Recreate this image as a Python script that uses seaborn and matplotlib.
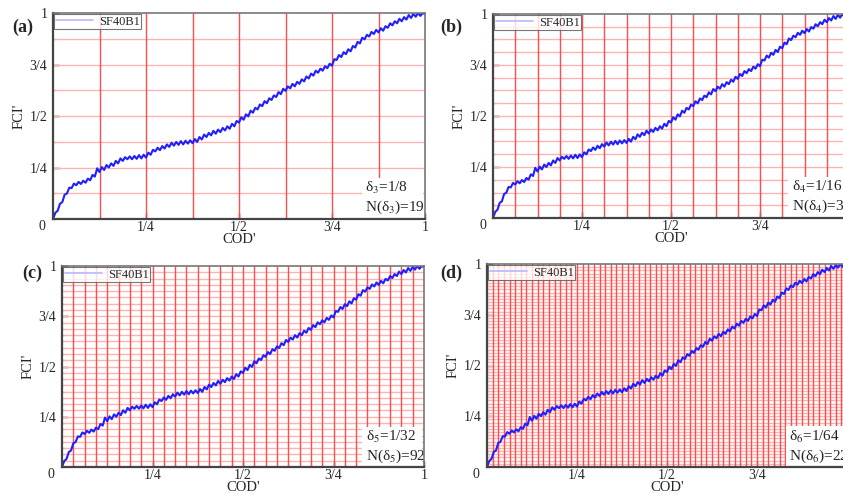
import numpy as np
import pandas as pd
import matplotlib
matplotlib.use("Agg")
import matplotlib.pyplot as plt
import seaborn as sns
from matplotlib.patches import Rectangle
from matplotlib.ticker import FixedLocator, MultipleLocator

sns.set_theme(style="white")
plt.rcParams["font.family"] = ["Liberation Serif", "DejaVu Serif"]
plt.rcParams["mathtext.fontset"] = "stix"

# Normalised force (FCI') sampled at evenly spaced normalised COD' values
fci = [0.000, 0.030, 0.040, 0.074, 0.082, 0.118, 0.124, 0.152, 0.150, 0.172,
       0.164, 0.180, 0.170, 0.186, 0.176, 0.196, 0.188, 0.214, 0.206, 0.246,
       0.228, 0.252, 0.238, 0.262, 0.250, 0.270, 0.258, 0.282, 0.270, 0.294,
       0.282, 0.300, 0.290, 0.304, 0.290, 0.306, 0.292, 0.310, 0.294, 0.312,
       0.298, 0.322, 0.312, 0.336, 0.328, 0.346, 0.334, 0.354, 0.342, 0.362,
       0.350, 0.370, 0.356, 0.374, 0.360, 0.378, 0.362, 0.380, 0.366, 0.382,
       0.368, 0.388, 0.374, 0.398, 0.386, 0.410, 0.398, 0.418, 0.406, 0.428,
       0.414, 0.434, 0.422, 0.442, 0.430, 0.450, 0.438, 0.462, 0.450, 0.476,
       0.468, 0.494, 0.482, 0.508, 0.498, 0.526, 0.516, 0.540, 0.532, 0.556,
       0.548, 0.572, 0.562, 0.586, 0.578, 0.600, 0.592, 0.616, 0.606, 0.632,
       0.622, 0.644, 0.634, 0.656, 0.644, 0.666, 0.656, 0.678, 0.668, 0.692,
       0.682, 0.706, 0.696, 0.720, 0.710, 0.730, 0.720, 0.742, 0.732, 0.754,
       0.744, 0.776, 0.772, 0.796, 0.786, 0.810, 0.800, 0.824, 0.814, 0.840,
       0.832, 0.860, 0.852, 0.880, 0.872, 0.894, 0.886, 0.908, 0.898, 0.918,
       0.906, 0.926, 0.914, 0.936, 0.928, 0.950, 0.940, 0.960, 0.950, 0.972,
       0.960, 0.980, 0.968, 0.990, 0.976, 0.996, 0.982, 1.000, 0.986, 1.000,
       0.994]
cod = np.linspace(0.0, 1.0, len(fci))
series_name = "SF40B1"

# Box-counting levels: panel letter, subscript, box size denominator, box count
panel_letters = ["(a)", "(b)", "(c)", "(d)"]
delta_index = [3, 4, 5, 6]
delta_denom = [8, 16, 32, 64]
box_counts = [19, 37, 92, 220]

tick_vals = [0.25, 0.5, 0.75, 1.0]
tick_text = ["1/4", "1/2", "3/4", "1"]

df = pd.DataFrame({"COD'": cod, "FCI'": fci, "series": series_name})

W, H = 843, 494
fig = plt.figure(figsize=(W / 100, H / 100), dpi=100)

# axes rectangles in pixels: left, top, right, bottom
boxes_px = [(53, 13, 425, 219), (493, 14, 849, 218),
            (62, 266, 424, 467), (487, 264, 847, 467)]
# panel letter anchor (right edge, vertical centre) in pixels
letter_px = [(33, 27), (462, 27), (42, 273), (462, 273)]

for i, (l, t, r, b) in enumerate(boxes_px):
    ax = fig.add_axes([l / W, 1 - b / H, (r - l) / W, (b - t) / H])
    ax.set_xlim(0, 1)
    ax.set_ylim(0, 1)
    n = delta_denom[i]
    step = 1.0 / n
    for k in range(1, n):
        ax.axhline(k * step, color="#ffb3b3", lw=1.0, zorder=1)
    for k in range(1, n):
        ax.axvline(k * step, color="#ff4d4d", lw=1.0, zorder=1.1)

    # white patch behind the box-count annotation
    ax.add_patch(Rectangle((0.83, 0.006), 0.165, 0.195, transform=ax.transAxes,
                           facecolor="white", edgecolor="none", zorder=2))

    sns.lineplot(data=df, x="COD'", y="FCI'", hue="series",
                 palette=["#1f1fff"], lw=1.5, ax=ax, zorder=3,
                 estimator=None, sort=False)

    leg = ax.legend(loc="upper left", fontsize=9, frameon=True, fancybox=False,
                    borderpad=0.1, handlelength=3.0, handletextpad=0.5,
                    borderaxespad=0.1, labelspacing=0.1)
    leg.get_frame().set_edgecolor("#555555")
    leg.get_frame().set_linewidth(0.8)
    for h in leg.get_lines():
        h.set_color("#b8b8ff")
        h.set_linewidth(1.2)
    leg.set_zorder(5)

    ax.xaxis.set_major_locator(FixedLocator(tick_vals))
    ax.set_xticklabels(tick_text)
    ax.yaxis.set_major_locator(FixedLocator(tick_vals))
    ax.set_yticklabels(tick_text)
    ax.xaxis.set_minor_locator(MultipleLocator(step))
    ax.yaxis.set_minor_locator(MultipleLocator(step))
    ax.tick_params(which="major", direction="in", length=4, width=1,
                   color="#222222", labelsize=10, pad=4,
                   bottom=True, left=True)
    ax.tick_params(axis="x", which="major", pad=1.5)
    ax.tick_params(which="minor", direction="in", length=2, width=0.8,
                   color="#222222", bottom=True, left=True)
    ax.set_xlabel("COD'", fontsize=10.5, labelpad=-1)
    ax.set_ylabel("FCI'", fontsize=10.5, labelpad=3)
    ax.text(-0.02, -0.005, "0", transform=ax.transAxes, ha="right", va="top",
            fontsize=10)

    for s in ["left", "bottom"]:
        ax.spines[s].set_color("#444444")
        ax.spines[s].set_linewidth(1.6)
    for s in ["top", "right"]:
        ax.spines[s].set_color("#777777")
        ax.spines[s].set_linewidth(1.2)
    for s in ax.spines.values():
        s.set_visible(True)
        s.set_zorder(6)

    d = delta_index[i]
    ax.text(0.84, 0.15, f"δ$_{d}$=1/{delta_denom[i]}",
            transform=ax.transAxes, fontsize=11, va="center", zorder=4)
    ax.text(0.84, 0.055, f"N(δ$_{d}$)={box_counts[i]}",
            transform=ax.transAxes, fontsize=11, va="center", zorder=4)

    lx, ly = letter_px[i]
    fig.text(lx / W, 1 - ly / H, panel_letters[i], fontsize=13,
             fontweight="bold", ha="right", va="center")

fig.savefig("out.png", dpi=100)
